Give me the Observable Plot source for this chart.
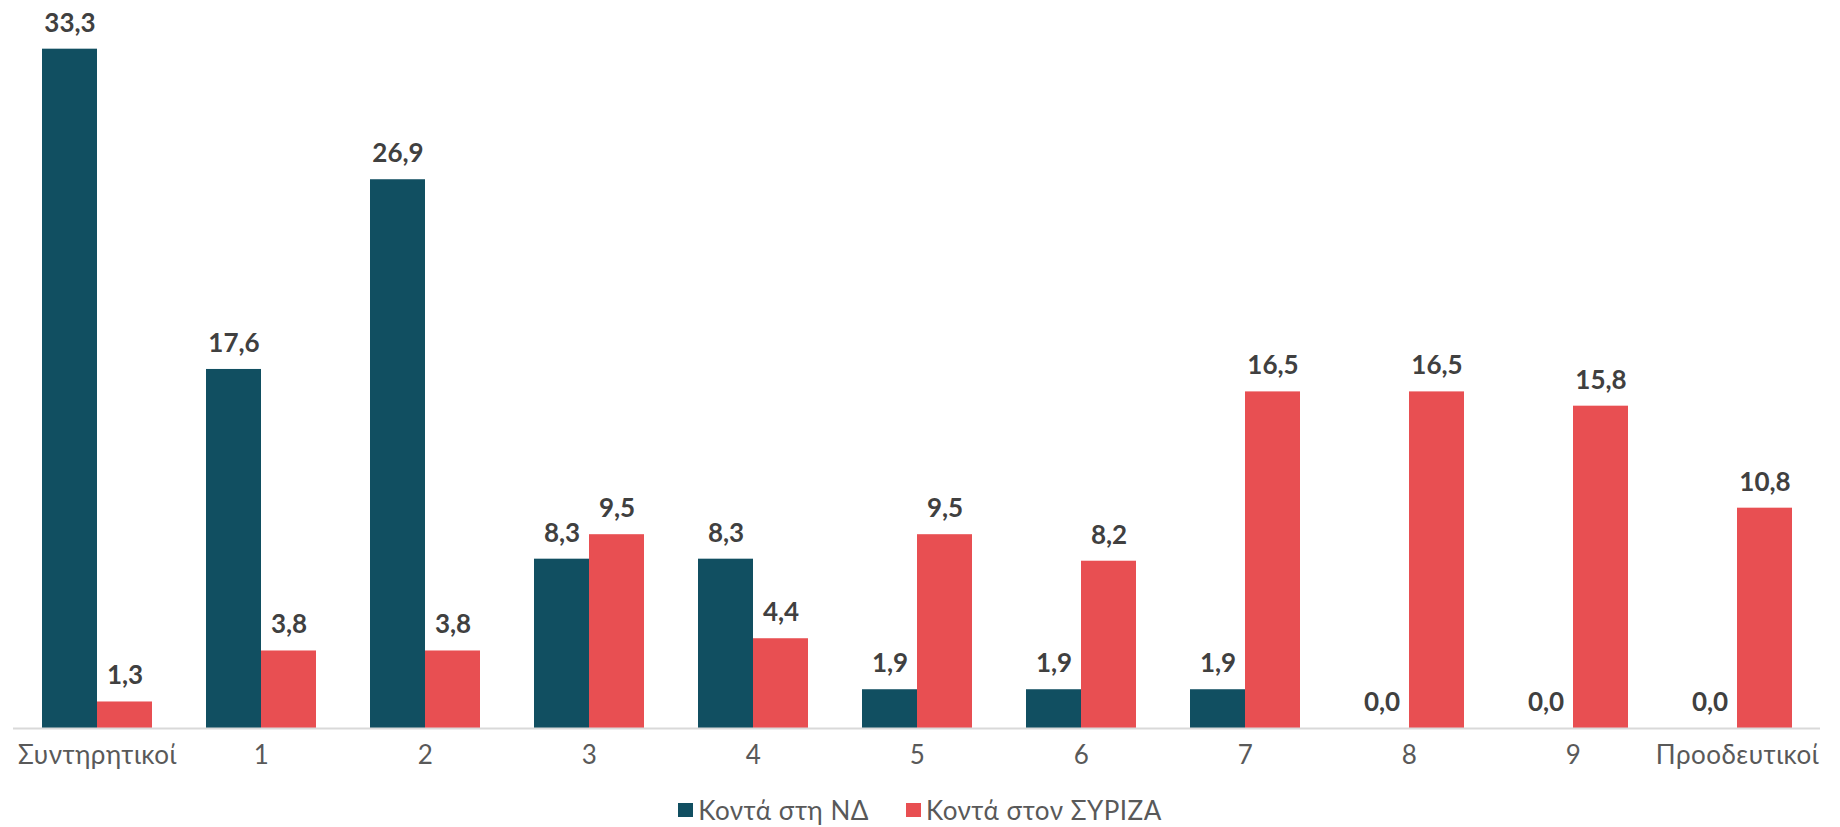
<!DOCTYPE html>
<html>
<head>
<meta charset="utf-8">
<script src="https://cdn.jsdelivr.net/npm/d3@7"></script>
<script src="https://cdn.jsdelivr.net/npm/@observablehq/plot@0.6"></script>
<style>
  html, body { margin: 0; padding: 0; background: #fff; }
  body { width: 1840px; height: 827px; overflow: hidden; font-family: Lato, "Noto Sans", sans-serif; }
  #legend { display: flex; justify-content: center; gap: 37px; margin-top: 15px;
            font-family: Lato, sans-serif; font-size: 26px; letter-spacing: 0.5px; color: #595959; line-height: 30px; }
  #legend span.item { display: flex; align-items: center; }
  #legend span.sw { display: inline-block; width: 15px; height: 14px; margin-right: 5px; }
</style>
</head>
<body>
<div id="chart"></div>
<div id="legend"></div>
<script>
const categories = ["Συντηρητικοί", "1", "2", "3", "4", "5", "6", "7", "8", "9", "Προοδευτικοί"];
const seriesNames = ["Κοντά στη ΝΔ", "Κοντά στον ΣΥΡΙΖΑ"];
const ndValues = [33.3, 17.6, 26.9, 8.3, 8.3, 1.9, 1.9, 1.9, 0.0, 0.0, 0.0];
const syrizaValues = [1.3, 3.8, 3.8, 9.5, 4.4, 9.5, 8.2, 16.5, 16.5, 15.8, 10.8];
const colors = ["#114f61", "#e84f52"];

const nd = categories.map((c, i) => ({category: c, value: ndValues[i]}));
const sy = categories.map((c, i) => ({category: c, value: syrizaValues[i]}));
const fmt = v => v.toFixed(1).replace(".", ",");

const half = 55;
const chart = Plot.plot({
  width: 1840,
  height: 780,
  marginLeft: 13,
  marginRight: 20,
  marginTop: 14,
  marginBottom: 52,
  style: {fontFamily: "Lato, sans-serif", background: "#fff"},
  x: {type: "band", domain: categories, paddingInner: 0.33, paddingOuter: 0.165, label: null},
  y: {domain: [0, 35], axis: null},
  marks: [
    Plot.barY(nd, {x: "category", y: "value", fill: colors[0], insetRight: half}),
    Plot.barY(sy, {x: "category", y: "value", fill: colors[1], insetLeft: half}),
    Plot.ruleY([0], {stroke: "#d9d9d9", strokeWidth: 2}),
    Plot.text(nd, {x: "category", y: "value", text: d => fmt(d.value), dx: -half / 2, dy: -26,
      fontSize: 26, fontWeight: 700, fill: "#404040"}),
    Plot.text(sy, {x: "category", y: "value", text: d => fmt(d.value), dx: half / 2, dy: -26,
      fontSize: 26, fontWeight: 700, fill: "#404040"}),
    Plot.axisX({tickSize: 0, tickPadding: 17, fontSize: 26, color: "#595959", label: null})
  ]
});
chart.querySelectorAll("g[aria-label='x-axis tick label'] text").forEach(t => t.style.letterSpacing = "0.5px");
document.getElementById("chart").appendChild(chart);

const legend = document.getElementById("legend");
seriesNames.forEach((name, i) => {
  const item = document.createElement("span");
  item.className = "item";
  const sw = document.createElement("span");
  sw.className = "sw";
  sw.style.background = colors[i];
  item.appendChild(sw);
  item.appendChild(document.createTextNode(name));
  legend.appendChild(item);
});
</script>
</body>
</html>
